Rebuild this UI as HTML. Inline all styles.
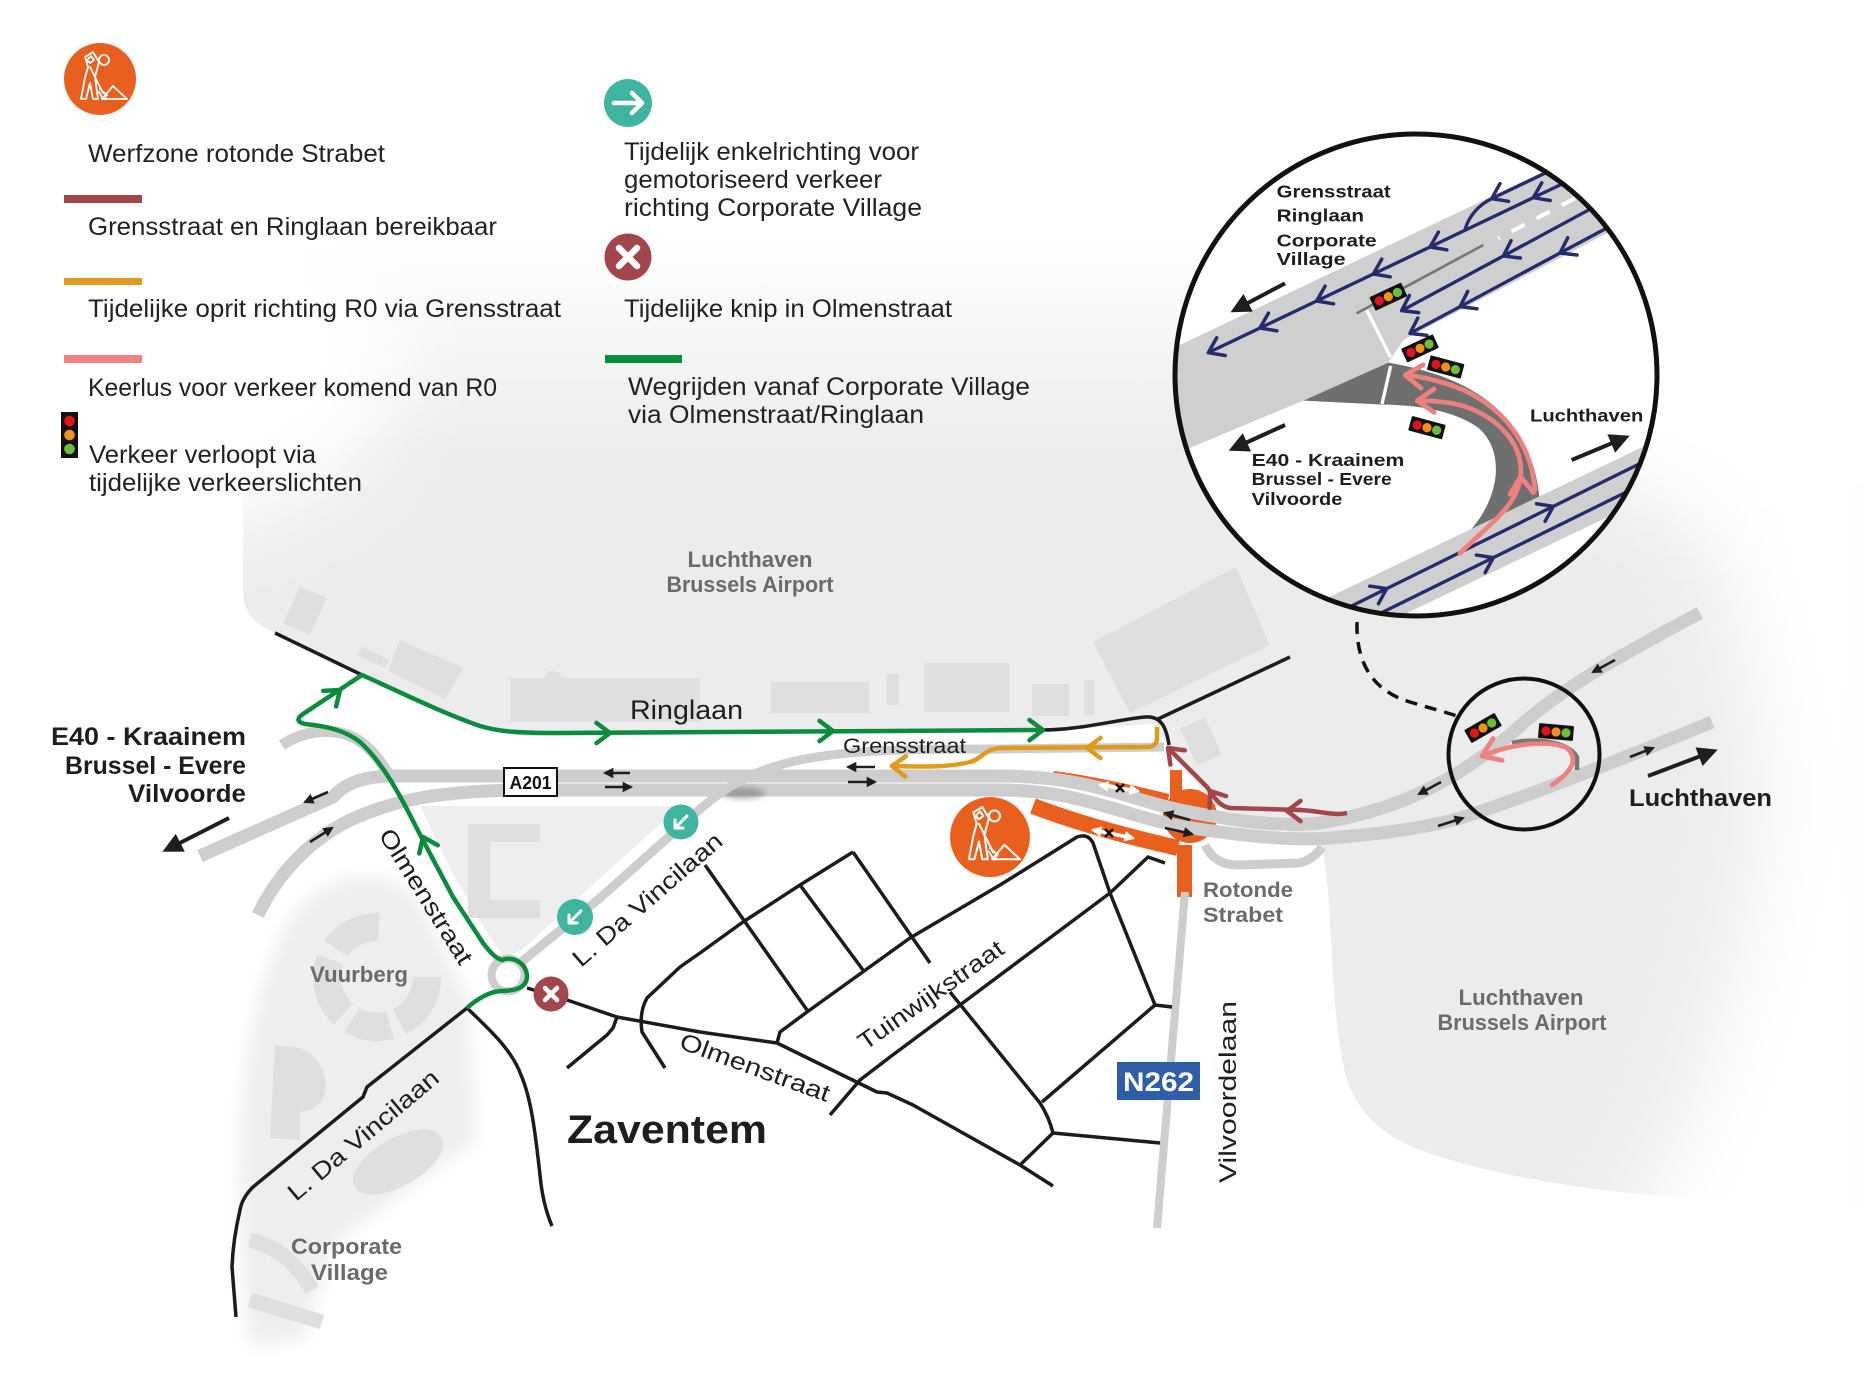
<!DOCTYPE html>
<html>
<head>
<meta charset="utf-8">
<style>
html,body{margin:0;padding:0;background:#fff;}
svg{display:block;}
</style>
</head>
<body>
<svg xmlns="http://www.w3.org/2000/svg" width="1862" height="1385" viewBox="0 0 1862 1385" font-family="'Liberation Sans', sans-serif">
<defs>
  <filter id="b8" x="-30%" y="-30%" width="160%" height="160%"><feGaussianBlur stdDeviation="8"/></filter>
  <filter id="b40" x="-60%" y="-60%" width="220%" height="220%"><feGaussianBlur stdDeviation="40"/></filter>
  <filter id="b3" x="-50%" y="-50%" width="200%" height="200%"><feGaussianBlur stdDeviation="3"/></filter>
  <linearGradient id="gTop" gradientUnits="userSpaceOnUse" x1="0" y1="235" x2="0" y2="455">
    <stop offset="0" stop-color="#fff" stop-opacity="1"/>
    <stop offset="1" stop-color="#fff" stop-opacity="0"/>
  </linearGradient>
  <clipPath id="cBig"><circle cx="1416" cy="375" r="239"/></clipPath>

  <marker id="chG" viewBox="0 0 10 10" refX="8" refY="5" markerWidth="5" markerHeight="5" orient="auto" markerUnits="strokeWidth" overflow="visible"><path d="M2,0.5 L8,5 L2,9.5" fill="none" stroke="#0b8c3c" stroke-width="2" stroke-linecap="round" stroke-linejoin="round"/></marker>
  <marker id="chO" viewBox="0 0 10 10" refX="8" refY="5" markerWidth="5" markerHeight="5" orient="auto" markerUnits="strokeWidth" overflow="visible"><path d="M2,0.5 L8,5 L2,9.5" fill="none" stroke="#e09b1f" stroke-width="2" stroke-linecap="round" stroke-linejoin="round"/></marker>
  <marker id="chB" viewBox="0 0 10 10" refX="8" refY="5" markerWidth="5" markerHeight="5" orient="auto" markerUnits="strokeWidth" overflow="visible"><path d="M2,0.5 L8,5 L2,9.5" fill="none" stroke="#a1474b" stroke-width="2" stroke-linecap="round" stroke-linejoin="round"/></marker>
  <marker id="chN" viewBox="0 0 10 10" refX="8" refY="5" markerWidth="7" markerHeight="7" orient="auto" markerUnits="strokeWidth" overflow="visible"><path d="M2,0.8 L8,5 L2,9.2" fill="none" stroke="#262b6b" stroke-width="1.5" stroke-linecap="round" stroke-linejoin="round"/></marker>
  <marker id="chP" viewBox="0 0 10 10" refX="8" refY="5" markerWidth="6" markerHeight="6" orient="auto" markerUnits="strokeWidth" overflow="visible"><path d="M2,0.8 L8,5 L2,9.2" fill="none" stroke="#ef8080" stroke-width="1.7" stroke-linecap="round" stroke-linejoin="round"/></marker>
  <marker id="ah" viewBox="0 0 10 10" refX="8" refY="5" markerWidth="4" markerHeight="4" orient="auto" markerUnits="strokeWidth" overflow="visible"><path d="M0,0 L10,5 L0,10 Z" fill="#1e1e1e"/></marker>
  <marker id="ah2" viewBox="0 0 10 10" refX="8" refY="5" markerWidth="5" markerHeight="5" orient="auto" markerUnits="strokeWidth" overflow="visible"><path d="M0,0 L10,5 L0,10 Z" fill="#1e1e1e"/></marker>
  <marker id="ahW" viewBox="0 0 10 10" refX="8" refY="5" markerWidth="3" markerHeight="3" orient="auto-start-reverse" markerUnits="strokeWidth" overflow="visible"><path d="M0,0 L10,5 L0,10 Z" fill="#fff"/></marker>

  <g id="tl">
    <rect x="-17.5" y="-7.5" width="35" height="15" rx="1" fill="#111"/>
    <circle cx="-10" cy="0" r="4.6" fill="#e3131b"/>
    <circle cx="0" cy="0" r="4.6" fill="#f39019"/>
    <circle cx="10" cy="0" r="4.6" fill="#6cbf3a"/>
  </g>
  <g id="wk">
    <circle r="36" fill="#e85f1e"/>
    <g fill="none" stroke="#fff" stroke-width="1.8" stroke-linejoin="round" stroke-linecap="round">
      <circle cx="4" cy="-19" r="5"/>
      <path d="M-15,-22 L-7,-27 L-1,-17 L-5,-2 L-2,20 L-7,20 L-10,4 L-14,20 L-19,20 L-15,-1 L-12,-12 Z"/>
      <path d="M-13,-19 L-9,-23 L-6,-19 L-10,-16 Z"/>
      <path d="M-10,-12 L3,14 M0,10 L7,16 L3,20 L-1,13"/>
      <path d="M2,20 L13,7 L27,20 Z"/>
    </g>
  </g>
</defs>

<!-- ============ BACKGROUND REGIONS ============ -->
<rect width="1862" height="1385" fill="#fff"/>
<path fill="#ececec" d="M243,235 L1862,235 L1862,1210 L1646,1195 C1560,1186 1480,1172 1420,1150 C1380,1135 1357,1110 1347,1080 C1336,1040 1333,980 1331,940 C1329,900 1327,870 1322,848 L1300,836 L1215,806 L1172,752 L1152,724 L1043,731 L520,736 L470,723 L362,676 L282,635 C255,627 243,612 243,592 Z"/>
<path fill="#eeeeee" filter="url(#b8)" d="M283,933 C295,905 320,885 350,878 L383,877 C400,885 412,893 420,902 L467,995 L476,1140 L335,1242 L302,1340 L250,1345 C238,1250 236,1150 245,1080 C250,1030 262,975 283,933 Z"/>
<polygon fill="#eeeeee" points="420,806 680,806 598,880 522,950 505,958 482,925 452,872"/>

<!-- fades -->
<rect x="0" y="0" width="1862" height="460" fill="url(#gTop)"/>
<ellipse cx="170" cy="360" rx="230" ry="170" fill="#fff" filter="url(#b40)"/>
<path fill="#fff" filter="url(#b40)" d="M1700,-50 L1920,-50 L1920,1420 L1580,1420 L1615,1250 L1685,1120 L1735,960 L1765,800 L1740,640 L1700,520 Z"/>
<path fill="#fff" filter="url(#b40)" d="M1380,-50 L1920,-50 L1920,470 L1720,520 L1560,470 L1420,430 Z"/>

<!-- buildings -->
<g fill="#dfdfdf">
  <polygon points="300,587 327,598 310,635 283,623"/>
  <polygon points="362,647 390,660 385,668 357,655"/>
  <polygon points="400,640 463,668 445,699 388,671"/>
  <rect x="510" y="678" width="190" height="44"/>
  <circle cx="553" cy="680" r="9"/>
  <rect x="771" y="682" width="98" height="31"/>
  <rect x="886" y="674" width="13" height="31"/>
  <rect x="924" y="663" width="86" height="49"/>
  <rect x="1032" y="684" width="37" height="32"/>
  <rect x="1084" y="680" width="10" height="35"/>
  <polygon points="1093,642 1236,567 1270,645 1130,713"/>
  <polygon points="1180,728 1205,718 1222,755 1197,765"/>
  <path d="M468,824 L540,824 L540,842 L490,842 L490,900 L540,900 L540,918 L468,918 Z"/>
  <path d="M275,1045 L300,1048 C330,1060 335,1100 310,1110 L300,1112 L300,1140 L270,1138 Z"/>
  <ellipse cx="398" cy="1162" rx="50" ry="24" transform="rotate(-30 398 1162)"/>
</g>
<circle cx="377" cy="977" r="50" fill="none" stroke="#dfdfdf" stroke-width="28" stroke-dasharray="55 10 40 10 60 12 50 90"/>
<path d="M250,1240 Q290,1250 312,1290 M250,1300 Q290,1312 322,1322" fill="none" stroke="#dfdfdf" stroke-width="15"/>

<!-- ============ CONSTRUCTION ZONE (orange) ============ -->
<g fill="#e85f1e">
  <circle cx="1190" cy="816" r="27"/>
  <rect x="1170" y="770" width="12" height="32"/>
  <rect x="1177" y="845" width="15" height="52"/>
</g>
<path d="M1053,777 Q1100,783 1168,800" fill="none" stroke="#e85f1e" stroke-width="12"/>
<path d="M1033,806 Q1090,828 1178,848" fill="none" stroke="#e85f1e" stroke-width="16"/>

<!-- ============ GRAY ROADS ============ -->
<g fill="none" stroke="#cdcdcd" stroke-linecap="butt" stroke-linejoin="round">
  <path stroke-width="13" d="M1700,613 C1620,655 1560,690 1520,726 C1495,748 1470,767 1440,783 C1400,805 1360,816 1320,823 C1270,828 1220,818 1180,810 C1130,800 1090,776 1000,776 L390,776 Q350,777 333,797 L200,856"/>
  <path stroke-width="13" d="M258,915 C280,868 320,830 367,813 C400,800 440,791 520,790 L1000,790 C1080,790 1120,815 1180,826 C1240,836 1290,841 1330,838 C1380,834 1430,828 1470,815 C1530,795 1600,768 1712,722"/>
  <path stroke-width="11" d="M282,745 C300,733 325,727 348,735 C368,743 378,758 390,776"/>
  <path stroke-width="9" d="M1205,845 Q1215,866 1240,865 L1298,863 Q1312,861 1322,847"/>
  <path stroke-width="8" d="M1185,892 L1157,1228"/>
</g>
<ellipse cx="743" cy="793" rx="22" ry="6" fill="#777" opacity="0.55" filter="url(#b3)"/>
<path d="M520,963 L600,898 L690,818 C715,795 745,771 800,760 C850,750 900,749 1000,749 L1164,747" fill="none" stroke="#cdcdcd" stroke-width="9"/>
<circle cx="508" cy="975" r="16.5" fill="#fff" stroke="#cdcdcd" stroke-width="8"/>

<!-- white double arrows on construction -->
<path d="M1100,785 L1138,791" stroke="#fff" stroke-width="3.5" marker-start="url(#ahW)" marker-end="url(#ahW)"/>
<path d="M1093,830 L1133,838" stroke="#fff" stroke-width="3.5" marker-start="url(#ahW)" marker-end="url(#ahW)"/>
<path d="M1116,784 L1124,792 M1124,784 L1116,792 M1105,829 L1113,837 M1113,829 L1105,837" stroke="#111" stroke-width="2.6"/>

<!-- ============ BLACK STREETS ============ -->
<g fill="none" stroke="#1c1c1c" stroke-width="3.5" stroke-linejoin="round">
  <path d="M275,633 L362,675"/>
  <path d="M467,1008 L367,1087 L363,1097 L253,1187 Q242,1198 240,1210 Q233,1240 232,1267 L236,1317"/>
  <path d="M467,1008 C490,1030 512,1050 521,1075 C532,1100 536,1140 540,1175 C542,1197 546,1212 552,1226"/>
  <path d="M527,988 L567,1000 L617,1017 L700,1032 L777,1043 L877,1092 L887,1093 L913,1105 L1020,1165 L1053,1186"/>
  <path d="M617,1017 L613,1028 L607,1035 L567,1068"/>
  <path d="M853,852 L800,885 L743,922 L700,953 L680,967 L647,998 Q639,1012 642,1032 L665,1068"/>
  <path d="M705,865 L807,1010"/>
  <path d="M800,885 L863,970"/>
  <path d="M853,852 L930,963"/>
  <path d="M777,1043 L780,1032 L807,1012 L910,938 L1000,885 L1077,837 Q1088,833 1093,843 L1110,893 L1155,1005"/>
  <path d="M830,1115 L860,1080 L890,1057 L960,1005 L1110,893 L1148,857 L1165,863"/>
  <path d="M1155,1005 L1172,1007"/>
  <path d="M1155,1005 L1042,1102"/>
  <path d="M950,992 L1040,1103 Q1049,1117 1053,1133"/>
  <path d="M1053,1133 L1160,1143"/>
  <path d="M1053,1133 L1020,1165"/>
  <path d="M1043,730 C1080,730 1120,719 1145,717 C1160,716 1166,725 1169,745"/>
  <path d="M1158,719 L1290,657"/>
</g>

<!-- ============ ROUTES ============ -->
<path d="M467,1008 C478,998 490,992 500,991 C515,991 527,988 527,976 C526,962 512,956 502,960 C495,958 490,952 483,943 L453,897 C440,872 424,843 410,815 C396,788 380,760 360,742 C345,730 325,726 305,724 Q293,721 303,714 L362,675 C400,692 440,712 480,726 C500,732 520,733 560,733 L1043,730" fill="none" stroke="#0b8c3c" stroke-width="4.5" stroke-linejoin="round" marker-end="url(#chG)"/>
<g stroke="none" stroke-width="4.5">
  <path d="M331,697.5 L340,690" marker-end="url(#chG)"/>
  <path d="M427,846 L423,837" marker-end="url(#chG)"/>
  <path d="M600,733 L610,733" marker-end="url(#chG)"/>
  <path d="M823,731 L833,731" marker-end="url(#chG)"/>
</g>
<path d="M1157,727 L1157,738 Q1157,747 1147,747 L1000,748 C985,749 980,760 970,762 C950,767 930,767 892,766" fill="none" stroke="#e09b1f" stroke-width="4.5" stroke-linejoin="round" marker-end="url(#chO)"/>
<path d="M1097,748 L1087,748" stroke="none" stroke-width="4.5" marker-end="url(#chO)"/>
<path d="M1347,813 C1335,816 1320,811 1300,810 L1230,808 C1218,806 1213,795 1207,787 L1168,748" fill="none" stroke="#a1474b" stroke-width="4.5" stroke-linejoin="round" marker-end="url(#chB)"/>
<g stroke="none" stroke-width="4.5">
  <path d="M1297,811 L1287,811" marker-end="url(#chB)"/>
  <path d="M1215,798 L1210,791" marker-end="url(#chB)"/>
</g>

<!-- ============ BLACK ARROWS ============ -->
<g stroke="#1e1e1e" stroke-width="2.6" fill="none">
  <path d="M630,773 L605,773" marker-end="url(#ah)"/>
  <path d="M605,787 L631,787" marker-end="url(#ah)"/>
  <path d="M875,767 L848,767" marker-end="url(#ah)"/>
  <path d="M848,782 L875,782" marker-end="url(#ah)"/>
  <path d="M328,792 L305,802" marker-end="url(#ah)"/>
  <path d="M310,842 L332,828" marker-end="url(#ah)"/>
  <path d="M1190,820 L1165,813" marker-end="url(#ah)"/>
  <path d="M1165,828 L1192,834" marker-end="url(#ah)"/>
  <path d="M1441,782 L1419,794" marker-end="url(#ah)"/>
  <path d="M1615,660 L1593,672" marker-end="url(#ah)"/>
  <path d="M1630,757 L1653,748" marker-end="url(#ah)"/>
  <path d="M1438,826 L1463,818" marker-end="url(#ah)"/>
</g>
<g stroke="#1e1e1e" stroke-width="4" fill="none">
  <path d="M229,818 L166,850" marker-end="url(#ah2)"/>
  <path d="M1648,776 L1714,751" marker-end="url(#ah2)"/>
</g>

<!-- ============ ICONS ON MAP ============ -->
<use href="#wk" transform="translate(990 837) scale(1.11)"/>
<circle cx="681" cy="822" r="17.5" fill="#3fb59f"/>
<path d="M687,816 L675,828 M675,820 L675,828 L683,828" fill="none" stroke="#fff" stroke-width="3" stroke-linecap="round" stroke-linejoin="round"/>
<circle cx="575" cy="917" r="18" fill="#3fb59f"/>
<path d="M581,911 L569,923 M569,915 L569,923 L577,923" fill="none" stroke="#fff" stroke-width="3" stroke-linecap="round" stroke-linejoin="round"/>
<circle cx="551" cy="994" r="17.5" fill="#a1474b"/>
<path d="M545,988 L557,1000 M557,988 L545,1000" stroke="#fff" stroke-width="4.5" stroke-linecap="round"/>

<!-- A201 and N262 -->
<rect x="504" y="768" width="53" height="28" fill="#fff" stroke="#111" stroke-width="2"/>
<text x="530.5" y="789" font-size="18" font-weight="bold" fill="#111" text-anchor="middle" textLength="42" lengthAdjust="spacingAndGlyphs">A201</text>
<rect x="1117" y="1062" width="83" height="38" fill="#2f5ea8"/>
<text x="1158.5" y="1091" font-size="27" font-weight="bold" fill="#fff" text-anchor="middle" textLength="71" lengthAdjust="spacingAndGlyphs">N262</text>

<!-- ============ MAP LABELS ============ -->
<g fill="#1e1e1e">
  <text x="630" y="719" font-size="27" textLength="113" lengthAdjust="spacingAndGlyphs">Ringlaan</text>
  <text x="843" y="753" font-size="21" textLength="123" lengthAdjust="spacingAndGlyphs">Grensstraat</text>
  <g font-weight="bold" font-size="25" text-anchor="end">
    <text x="246" y="745" textLength="195" lengthAdjust="spacingAndGlyphs">E40 - Kraainem</text>
    <text x="246" y="774" textLength="181" lengthAdjust="spacingAndGlyphs">Brussel - Evere</text>
    <text x="246" y="802" textLength="118" lengthAdjust="spacingAndGlyphs">Vilvoorde</text>
  </g>
  <text x="567" y="1143" font-size="40" font-weight="bold" textLength="200" lengthAdjust="spacingAndGlyphs">Zaventem</text>
  <text x="1629" y="806" font-size="24" font-weight="bold" textLength="143" lengthAdjust="spacingAndGlyphs">Luchthaven</text>
  <g font-size="24">
    <text transform="translate(378 835) rotate(58)" textLength="155" lengthAdjust="spacingAndGlyphs">Olmenstraat</text>
    <text transform="translate(581 968) rotate(-41)" textLength="190" lengthAdjust="spacingAndGlyphs">L. Da Vincilaan</text>
    <text transform="translate(296 1202) rotate(-40)" textLength="189" lengthAdjust="spacingAndGlyphs">L. Da Vincilaan</text>
    <text transform="translate(678 1048) rotate(20)" textLength="158" lengthAdjust="spacingAndGlyphs">Olmenstraat</text>
    <text transform="translate(865 1051) rotate(-35)" textLength="172" lengthAdjust="spacingAndGlyphs">Tuinwijkstraat</text>
    <text transform="translate(1236 1183) rotate(-90)" textLength="182" lengthAdjust="spacingAndGlyphs">Vilvoordelaan</text>
  </g>
</g>
<g fill="#6b6b6b" font-weight="bold" font-size="22">
  <text x="750" y="567" text-anchor="middle" textLength="125" lengthAdjust="spacingAndGlyphs">Luchthaven</text>
  <text x="750" y="592" text-anchor="middle" textLength="167" lengthAdjust="spacingAndGlyphs">Brussels Airport</text>
  <text x="1521" y="1005" text-anchor="middle" textLength="125" lengthAdjust="spacingAndGlyphs">Luchthaven</text>
  <text x="1522" y="1030" text-anchor="middle" textLength="169" lengthAdjust="spacingAndGlyphs">Brussels Airport</text>
  <text x="310" y="982" textLength="98" lengthAdjust="spacingAndGlyphs">Vuurberg</text>
  <text x="291" y="1254" textLength="111" lengthAdjust="spacingAndGlyphs">Corporate</text>
  <text x="311" y="1280" textLength="77" lengthAdjust="spacingAndGlyphs">Village</text>
  <text x="1203" y="897" font-size="21" textLength="90" lengthAdjust="spacingAndGlyphs">Rotonde</text>
  <text x="1203" y="922" font-size="21" textLength="80" lengthAdjust="spacingAndGlyphs">Strabet</text>
</g>

<!-- ============ SMALL CIRCLE ============ -->
<path d="M1357,622 C1356,660 1370,690 1410,702 C1430,708 1445,712 1460,717" fill="none" stroke="#111" stroke-width="3.5" stroke-dasharray="12 8"/>
<circle cx="1524" cy="754" r="75.5" fill="none" stroke="#111" stroke-width="4"/>
<use href="#tl" transform="translate(1483 728) rotate(-30)"/>
<use href="#tl" transform="translate(1556 732) rotate(5)"/>
<path d="M1512,743 C1530,738 1567,740 1577,757 L1577,770" fill="none" stroke="#777" stroke-width="4.5"/>
<path d="M1552,785 C1570,773 1580,760 1567,748 C1550,740 1513,743 1482,756" fill="none" stroke="#ef8080" stroke-width="4.7" stroke-linecap="round" marker-end="url(#chP)"/>

<!-- ============ BIG CIRCLE INSET ============ -->
<g clip-path="url(#cBig)">
  <circle cx="1416" cy="375" r="241" fill="#fff"/>
  <g transform="translate(1170 110) scale(0.333333)">
    <polygon fill="#cfcfcf" points="-100,767 1600,-44 1600,218 700,690 655,758 400,872 -100,1080"/>
    <path fill="#6f6f6f" d="M400,872 L655,758 C850,790 1080,880 1108,1160 L900,1262 C1000,1150 1000,1010 920,950 C840,895 720,885 640,884 Z"/>
    <polygon fill="#cfcfcf" points="300,1546 1700,876 1700,1036 300,1706"/>
    <path d="M590,600 L662,742 M662,768 L636,882" stroke="#fff" stroke-width="10" fill="none"/>
    <path d="M940,405 L560,610" stroke="#777" stroke-width="8"/>
    <path d="M1215,265 L985,385" stroke="#fff" stroke-width="12" stroke-dasharray="45 40"/>
    <g fill="none" stroke="#262b6b" stroke-width="10" stroke-linejoin="round">
      <path d="M1145,180 L965,266 Q905,296 885,358" marker-mid="url(#chN)"/>
      <polyline points="1185,218 1090,263 780,411 610,492 440,573 270,654 115,728" marker-mid="url(#chN)" marker-end="url(#chN)"/>
      <polyline points="1265,295 1000,438 695,602" marker-mid="url(#chN)" marker-end="url(#chN)"/>
      <polyline points="1305,357 1170,429 870,590 720,670" marker-mid="url(#chN)" marker-end="url(#chN)"/>
      <polyline points="300,1609 650,1436 1150,1189 1600,967" marker-mid="url(#chN)"/>
      <polyline points="300,1673 970,1343 1600,1032" marker-mid="url(#chN)"/>
    </g>
    <use href="#tl" transform="translate(655 560) rotate(-25) scale(3)"/>
    <use href="#tl" transform="translate(750 715) rotate(-25) scale(3)"/>
    <use href="#tl" transform="translate(827 771) rotate(15) scale(3)"/>
    <use href="#tl" transform="translate(771 953) rotate(15) scale(3)"/>
    <g fill="none" stroke="#ef8080" stroke-width="14" stroke-linecap="round">
      <path d="M870,1330 C960,1240 1040,1190 1052,1100 C1062,1000 980,920 880,888 C840,876 790,872 742,872" marker-end="url(#chP)"/>
      <path d="M1095,1140 C1085,1010 1010,900 880,840 C820,815 760,800 706,795" marker-end="url(#chP)"/>
      <path d="M1053,1115 L1052,1100" stroke="none" marker-end="url(#chP)"/>
    </g>
    <g stroke="#1e1e1e" stroke-width="12" fill="none">
      <path d="M345,520 L192,601" marker-end="url(#ah2)"/>
      <path d="M345,945 L187,1017" marker-end="url(#ah2)"/>
      <path d="M1205,1050 L1368,982" marker-end="url(#ah2)"/>
    </g>
    <g fill="#1e1e1e" font-weight="bold" font-size="52">
      <text x="320" y="262" textLength="342" lengthAdjust="spacingAndGlyphs">Grensstraat</text>
      <text x="320" y="335" textLength="262" lengthAdjust="spacingAndGlyphs">Ringlaan</text>
      <text x="320" y="410" textLength="300" lengthAdjust="spacingAndGlyphs">Corporate</text>
      <text x="320" y="465" textLength="207" lengthAdjust="spacingAndGlyphs">Village</text>
      <text x="245" y="1068" textLength="458" lengthAdjust="spacingAndGlyphs">E40 - Kraainem</text>
      <text x="245" y="1125" textLength="420" lengthAdjust="spacingAndGlyphs">Brussel - Evere</text>
      <text x="245" y="1185" textLength="272" lengthAdjust="spacingAndGlyphs">Vilvoorde</text>
      <text x="1080" y="935" textLength="340" lengthAdjust="spacingAndGlyphs">Luchthaven</text>
    </g>
  </g>
</g>
<circle cx="1416" cy="375" r="241" fill="none" stroke="#111" stroke-width="5"/>

<!-- ============ LEGEND ============ -->
<use href="#wk" transform="translate(100 79)"/>
<rect x="64" y="195" width="78" height="8" fill="#a1474b"/>
<rect x="64" y="278" width="78" height="7" fill="#e09b1f"/>
<rect x="64" y="355" width="78" height="8" fill="#f08282"/>
<rect x="61" y="412" width="17" height="46" fill="#111"/>
<circle cx="69.5" cy="421" r="5.3" fill="#e3131b"/>
<circle cx="69.5" cy="435" r="5.3" fill="#f39019"/>
<circle cx="69.5" cy="449" r="5.3" fill="#6cbf3a"/>

<circle cx="628" cy="103" r="24" fill="#3fb59f"/>
<path d="M614,103 L642,103 M632,93 L642,103 L632,113" fill="none" stroke="#fff" stroke-width="4.5" stroke-linecap="round" stroke-linejoin="round"/>
<circle cx="628" cy="257" r="23.5" fill="#a1474b"/>
<path d="M619,248 L637,266 M637,248 L619,266" stroke="#fff" stroke-width="6.5" stroke-linecap="round"/>
<rect x="605" y="355" width="77" height="8" fill="#0b8c3c"/>

<g fill="#222" font-size="25">
  <text x="88" y="162" textLength="297" lengthAdjust="spacingAndGlyphs">Werfzone rotonde Strabet</text>
  <text x="88" y="235" textLength="409" lengthAdjust="spacingAndGlyphs">Grensstraat en Ringlaan bereikbaar</text>
  <text x="88" y="317" textLength="473" lengthAdjust="spacingAndGlyphs">Tijdelijke oprit richting R0 via Grensstraat</text>
  <text x="88" y="396" textLength="409" lengthAdjust="spacingAndGlyphs">Keerlus voor verkeer komend van R0</text>
  <text x="89" y="463" textLength="227" lengthAdjust="spacingAndGlyphs">Verkeer verloopt via</text>
  <text x="89" y="491" textLength="273" lengthAdjust="spacingAndGlyphs">tijdelijke verkeerslichten</text>
  <text x="624" y="160" textLength="295" lengthAdjust="spacingAndGlyphs">Tijdelijk enkelrichting voor</text>
  <text x="624" y="188" textLength="258" lengthAdjust="spacingAndGlyphs">gemotoriseerd verkeer</text>
  <text x="624" y="216" textLength="298" lengthAdjust="spacingAndGlyphs">richting Corporate Village</text>
  <text x="624" y="317" textLength="328" lengthAdjust="spacingAndGlyphs">Tijdelijke knip in Olmenstraat</text>
  <text x="628" y="395" textLength="402" lengthAdjust="spacingAndGlyphs">Wegrijden vanaf Corporate Village</text>
  <text x="628" y="423" textLength="296" lengthAdjust="spacingAndGlyphs">via Olmenstraat/Ringlaan</text>
</g>
</svg>
</body>
</html>
